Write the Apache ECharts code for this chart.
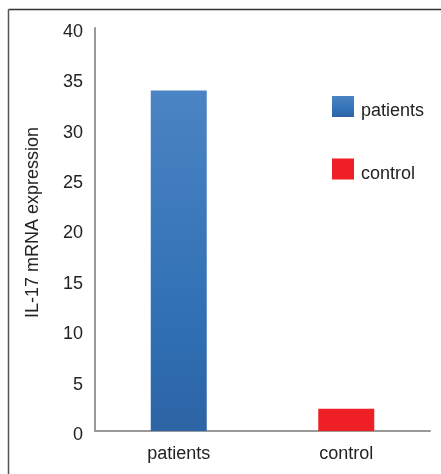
<!DOCTYPE html>
<html>
<head>
<meta charset="utf-8">
<script src="https://cdn.jsdelivr.net/npm/echarts@6/dist/echarts.min.js"></script>
<style>html,body{margin:0;padding:0;background:#fff;}#c{width:441px;height:474px;}</style>
</head>
<body>
<div id="c"></div>
<script>
const categories = ['patients', 'control'];
const patientsValues = [33.8, null];
const controlValues = [null, 2.2];
const yTicks = [0, 5, 10, 15, 20, 25, 30, 35, 40];
const yAxisName = 'IL-17 mRNA expression';

const blueGrad = new echarts.graphic.LinearGradient(0, 0, 0, 1, [
  {offset: 0, color: '#4b84c4'},
  {offset: 0.7, color: '#2f6fb4'},
  {offset: 1, color: '#2d64a5'}
]);
const chart = echarts.init(document.getElementById('c'), null, {renderer: 'canvas'});
chart.setOption({
  backgroundColor: '#fff',
  animation: false,
  textStyle: {fontFamily: 'Liberation Sans, Arial, sans-serif'},
  graphic: [
    {type: 'line', shape: {x1: 8.5, y1: 9.5, x2: 441, y2: 9.5}, style: {stroke: '#333', lineWidth: 1.5}},
    {type: 'line', shape: {x1: 8.5, y1: 9.5, x2: 8.5, y2: 474}, style: {stroke: '#555', lineWidth: 1.5}}
  ],
  grid: {left: 95, right: 11, top: 28, bottom: 43, containLabel: false},
  legend: {
    orient: 'vertical', left: 332, top: 96, padding: 0,
    itemWidth: 22, itemHeight: 21, itemGap: 38,
    icon: 'rect',
    formatter: '{a|{name}}',
    textStyle: {
      fontSize: 18, color: '#222',
      rich: {a: {fontSize: 18, color: '#222', padding: [10, 0, 0, 2]}}
    },
    data: ['patients', 'control']
  },
  xAxis: {
    type: 'category', data: categories,
    axisLine: {lineStyle: {color: '#999', width: 2}},
    axisTick: {show: false},
    axisLabel: {fontSize: 18, color: '#222', margin: 14}
  },
  yAxis: {
    type: 'value', min: yTicks[0], max: yTicks[yTicks.length - 1], interval: 5,
    name: yAxisName, nameLocation: 'middle', nameGap: 53,
    nameTextStyle: {fontSize: 18, color: '#222', padding: [0, 0, 0, 14]},
    axisLine: {show: true, lineStyle: {color: '#999', width: 2}},
    axisTick: {show: false},
    splitLine: {show: false},
    axisLabel: {fontSize: 18, color: '#222', margin: 12, verticalAlign: 'top', padding: [-5, 0, 0, 0]}
  },
  series: [
    {name: 'patients', type: 'bar', stack: 's', data: patientsValues, barWidth: 56,
     itemStyle: {color: blueGrad}},
    {name: 'control', type: 'bar', stack: 's', data: controlValues, barWidth: 56,
     itemStyle: {color: '#ee1f25'}}
  ]
});
</script>
</body>
</html>
